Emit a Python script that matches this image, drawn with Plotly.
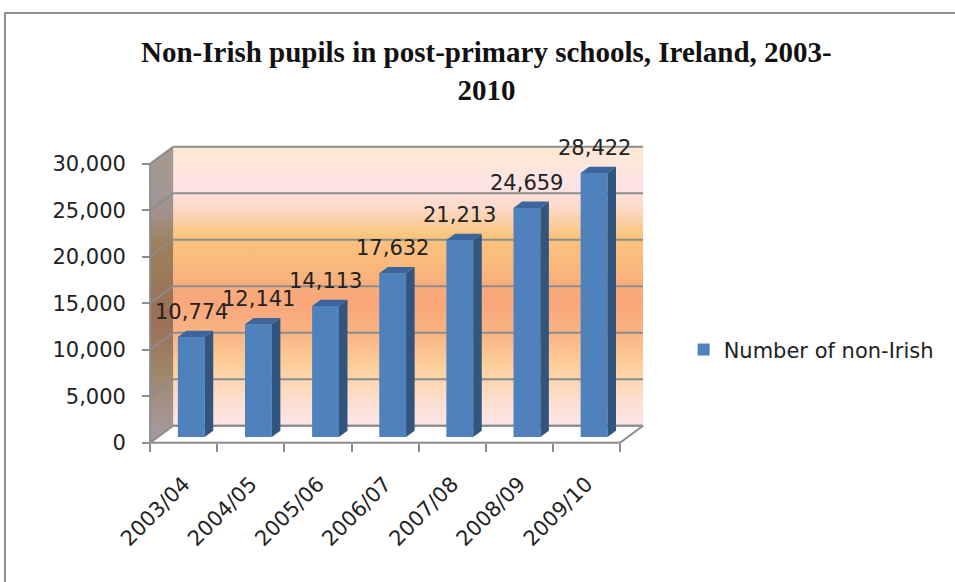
import plotly.graph_objects as go

# ---- data ----
categories = ["2003/04", "2004/05", "2005/06", "2006/07", "2007/08", "2008/09", "2009/10"]
pupils = [10774, 12141, 14113, 17632, 21213, 24659, 28422]
y_ticks = [0, 5000, 10000, 15000, 20000, 25000, 30000]
series_name = "Number of non-Irish"
title_text = "Non-Irish pupils in post-primary schools, Ireland, 2003-<br>2010"

# ---- pseudo-3D geometry (x in category units, y in value units) ----
DEPTH_X = 0.343          # horizontal shift from front to back wall
DEPTH_Y = 1830           # vertical shift from front to back wall
Y_TOP = y_ticks[-1]
BAR_FRONT = 0.33         # depth fraction of the bar's front face
BAR_BACK = 0.70          # depth fraction of the bar's back face
BAR_WIDTH = 0.40
X_RANGE = [-0.3, 7.7]
Y_RANGE = [-1000, 33000]
N = len(categories)

FONT = "DejaVu Sans"
TEXT_COL = "#222222"
GRID_COL = "#8C8C8C"

AX_X_POS = (0 - Y_RANGE[0]) / (Y_RANGE[1] - Y_RANGE[0])
AX_Y_POS = (0 - X_RANGE[0]) / (X_RANGE[1] - X_RANGE[0])

wall_stops = [
    (0.00, "#FDE6EB"), (0.09, "#FDDFCF"), (0.22, "#FCCE98"), (0.33, "#FAB485"),
    (0.45, "#F9A67A"), (0.58, "#F9B97D"), (0.68, "#FAC47F"), (0.78, "#FCD9C6"),
    (0.86, "#FDE3E6"), (1.00, "#FDE9D3"),
]


def shade(hex_col, k, grey=0.0):
    """Darken a colour by k and pull it towards a neutral grey."""
    h = hex_col.lstrip("#")
    r, g, b = (int(h[i:i + 2], 16) for i in (0, 2, 4))
    m = (r + g + b) / 3
    r, g, b = (c * (1 - grey) + m * grey for c in (r, g, b))
    return "rgb(%d,%d,%d)" % (r * k, g * k, b * k)


back_scale = [[p, c] for p, c in wall_stops]
side_scale = [[p, shade(c, 0.66, 0.2)] for p, c in wall_stops]

fig = go.Figure()

# back wall
fig.add_trace(go.Scatter(
    x=[DEPTH_X, N + DEPTH_X, N + DEPTH_X, DEPTH_X, DEPTH_X],
    y=[DEPTH_Y, DEPTH_Y, Y_TOP + DEPTH_Y, Y_TOP + DEPTH_Y, DEPTH_Y],
    mode="lines", line=dict(width=0), fill="toself",
    fillgradient=dict(type="vertical", colorscale=back_scale,
                      start=DEPTH_Y, stop=Y_TOP + DEPTH_Y),
    showlegend=False, hoverinfo="skip"))

# left side wall
fig.add_trace(go.Scatter(
    x=[0, DEPTH_X, DEPTH_X, 0, 0],
    y=[0, DEPTH_Y, Y_TOP + DEPTH_Y, Y_TOP, 0],
    mode="lines", line=dict(width=0), fill="toself",
    fillgradient=dict(type="vertical", colorscale=side_scale,
                      start=DEPTH_Y / 2, stop=Y_TOP + DEPTH_Y / 2),
    showlegend=False, hoverinfo="skip"))

# floor
fig.add_trace(go.Scatter(
    x=[0, N, N + DEPTH_X, DEPTH_X, 0],
    y=[0, 0, DEPTH_Y, DEPTH_Y, 0],
    mode="lines", line=dict(color=GRID_COL, width=2), fill="toself",
    fillcolor="white", showlegend=False, hoverinfo="skip"))

# gridlines on back wall and side wall
gx, gy = [], []
for v in y_ticks:
    gx += [DEPTH_X, N + DEPTH_X, None]
    gy += [v + DEPTH_Y, v + DEPTH_Y, None]
    if v > 0:
        gx += [0, DEPTH_X, None]
        gy += [v, v + DEPTH_Y, None]
gx += [0, 0, None]
gy += [0, Y_TOP, None]
fig.add_trace(go.Scatter(x=gx, y=gy, mode="lines",
                         line=dict(color=GRID_COL, width=2),
                         showlegend=False, hoverinfo="skip"))

# ---- bars (overlay subplot so they sit above the walls) ----
xc = [i + 0.5 + BAR_FRONT * DEPTH_X for i in range(N)]
base = BAR_FRONT * DEPTH_Y
ddx = (BAR_BACK - BAR_FRONT) * DEPTH_X
ddy = (BAR_BACK - BAR_FRONT) * DEPTH_Y

fig.add_trace(go.Bar(
    x=xc, y=pupils, base=base, width=BAR_WIDTH, name=series_name,
    marker=dict(color="#4F81BD", line=dict(width=0)),
    xaxis="x2", yaxis="y2"))

sx, sy, tx, ty = [], [], [], []
for c, v in zip(xc, pupils):
    xl, xr, top = c - BAR_WIDTH / 2, c + BAR_WIDTH / 2, base + v
    sx += [xr, xr, xr + ddx, xr + ddx, xr, None]
    sy += [base, top, top + ddy, base + ddy, base, None]
    tx += [xl, xr, xr + ddx, xl + ddx, xl, None]
    ty += [top, top, top + ddy, top + ddy, top, None]

fig.add_trace(go.Scatter(x=sx, y=sy, mode="lines", line=dict(width=0),
                         fill="toself", fillcolor="#31557F",
                         showlegend=False, hoverinfo="skip",
                         xaxis="x2", yaxis="y2"))
fig.add_trace(go.Scatter(x=tx, y=ty, mode="lines", line=dict(width=0),
                         fill="toself", fillcolor="#3B659C",
                         showlegend=False, hoverinfo="skip",
                         xaxis="x2", yaxis="y2"))

# value labels
for c, v in zip(xc, pupils):
    fig.add_annotation(x=c, y=base + v, xref="x", yref="y", text=f"{v:,}",
                       showarrow=False, yanchor="middle", yshift=25,
                       font=dict(family=FONT, size=21, color=TEXT_COL))

# title
fig.add_annotation(x=0.664, y=1.205, xref="paper", yref="paper",
                   text=title_text, showarrow=False, xanchor="center",
                   yanchor="middle",
                   font=dict(family="Liberation Serif", size=29,
                             color="#111111", weight="bold"))

# chart-area frame
fig.add_shape(type="rect", xref="paper", yref="paper",
              x0=-0.2328, x1=1.8, y0=-0.6, y1=1.3892,
              line=dict(color="#8E8E8E", width=2), fillcolor="rgba(0,0,0,0)")

fig.update_layout(
    width=955, height=582,
    margin=dict(l=130, r=288, t=136, b=130, autoexpand=False),
    paper_bgcolor="white", plot_bgcolor="rgba(0,0,0,0)",
    showlegend=True,
    legend=dict(x=1.031, y=0.323, xanchor="left", yanchor="middle",
                bgcolor="rgba(0,0,0,0)",
                font=dict(family=FONT, size=21, color=TEXT_COL)),
    xaxis=dict(range=X_RANGE, tickmode="array",
               tickvals=[i + 0.5 for i in range(N)], ticktext=categories,
               tickangle=-45, ticks="", ticklabelstandoff=24,
               showgrid=False, zeroline=False, showline=False,
               anchor="free", position=AX_X_POS, fixedrange=True,
               tickfont=dict(family=FONT, size=21, color=TEXT_COL)),
    yaxis=dict(range=Y_RANGE, tickmode="array", tickvals=y_ticks,
               tickformat=",", ticks="outside", ticklen=8, tickwidth=2,
               tickcolor=GRID_COL, ticklabelstandoff=12,
               showgrid=False, zeroline=False, showline=False,
               anchor="free", position=AX_Y_POS, fixedrange=True,
               tickfont=dict(family=FONT, size=21, color=TEXT_COL)),
    xaxis2=dict(range=X_RANGE, overlaying="x", tickmode="array",
                tickvals=list(range(N + 1)), showticklabels=False,
                ticks="outside", ticklen=8, tickwidth=2, tickcolor=GRID_COL,
                showgrid=False, zeroline=False, showline=False,
                anchor="free", position=AX_X_POS, side="bottom",
                fixedrange=True),
    yaxis2=dict(range=Y_RANGE, overlaying="y", visible=False,
                fixedrange=True),
)

fig.write_html("out.html")
